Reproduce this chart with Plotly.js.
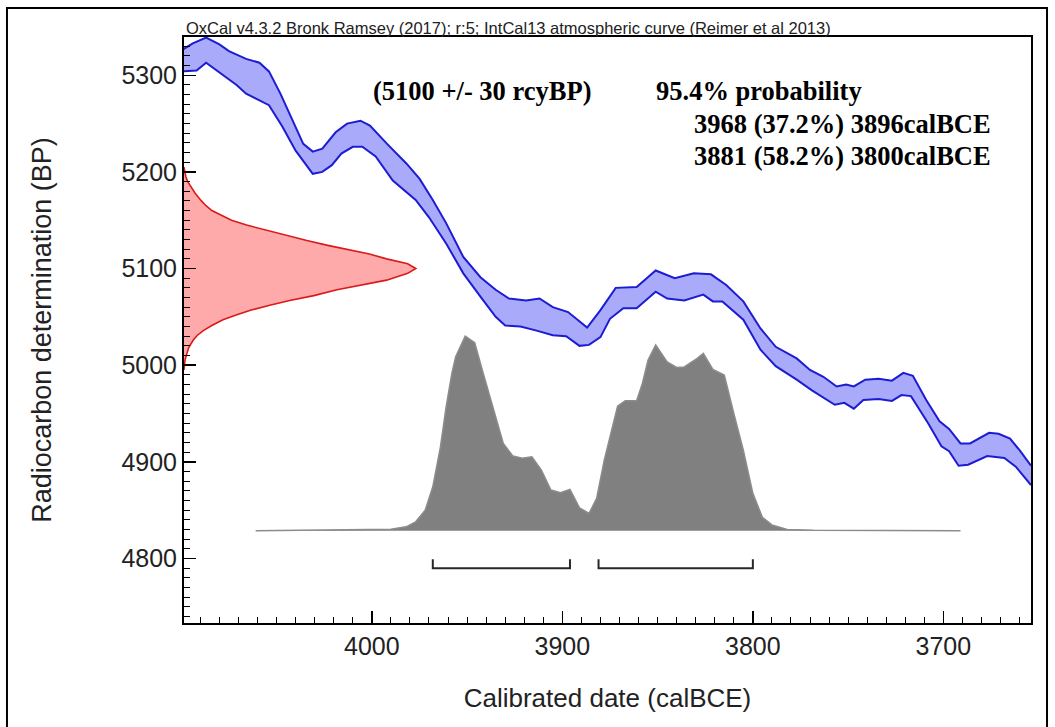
<!DOCTYPE html>
<html>
<head>
<meta charset="utf-8">
<script src="https://cdn.plot.ly/plotly-3.0.1.min.js"></script>
<style>
html,body{margin:0;padding:0;background:#fff;}
#chart{width:1055px;height:727px;}
</style>
</head>
<body>
<div id="chart"></div>
<script>
// IntCal13 calibration band (calendar year BCE vs radiocarbon age BP)
const curveUpperYear = [4099,4094,4087,4080,4075,4066,4059,4054,4048,4041,4036,4031,4026,4019,4013,4006,4001,3992,3982,3975,3968,3961,3952,3943,3935,3928,3919,3912,3905,3897,3887,3880,3872,3861,3851,3841,3831,3822,3814,3805,3796,3788,3777,3770,3763,3756,3751,3747,3741,3734,3727,3721,3716,3709,3702,3697,3691,3686,3676,3671,3665,3660,3654];
const curveUpperBP   = [5327,5333,5339,5332,5325,5317,5313,5304,5281,5250,5229,5221,5224,5241,5250,5253,5248,5229,5209,5193,5171,5147,5112,5091,5078,5069,5067,5069,5060,5055,5039,5057,5080,5081,5098,5090,5095,5094,5083,5066,5038,5019,5007,4995,4988,4978,4980,4978,4985,4986,4984,4992,4989,4964,4942,4934,4919,4919,4930,4929,4924,4912,4896];
const curveLowerYear = [4099,4092,4087,4080,4071,4066,4059,4054,4047,4040,4031,4026,4021,4016,4010,4005,3998,3989,3977,3970,3961,3952,3943,3935,3930,3922,3914,3905,3898,3891,3886,3880,3875,3868,3861,3851,3845,3836,3826,3821,3816,3805,3796,3788,3777,3769,3757,3752,3747,3742,3734,3727,3722,3717,3708,3701,3697,3692,3687,3677,3668,3662,3654];
const curveLowerBP   = [5304,5305,5313,5303,5290,5281,5274,5269,5247,5222,5198,5200,5207,5219,5226,5226,5216,5191,5171,5153,5126,5095,5071,5050,5041,5040,5036,5031,5030,5020,5021,5029,5048,5059,5059,5076,5069,5067,5073,5066,5066,5047,5016,4999,4985,4974,4959,4961,4955,4964,4965,4963,4969,4968,4940,4916,4911,4896,4897,4906,4904,4895,4876];

// Measured radiocarbon age and its relative likelihood
const measMean = 5100;
const measSigma = 30;
const measBP      = [5205,5200,5195,5190,5185,5178,5170,5165,5160,5155,5150,5145,5140,5134,5129,5124,5119,5115,5110,5105,5100,5095,5088,5083,5078,5072,5067,5062,5057,5052,5047,5041,5036,5031,5026,5018,5012,5006,5000,4995];
const measDensity = [0,0.003,0.008,0.016,0.028,0.048,0.075,0.095,0.12,0.16,0.205,0.27,0.35,0.44,0.53,0.62,0.715,0.8,0.874,0.965,1.0,0.965,0.874,0.77,0.66,0.56,0.456,0.37,0.29,0.225,0.168,0.12,0.085,0.058,0.04,0.02,0.011,0.005,0.002,0];

// Calibrated date probability (relative)
const postYear = [4061,4034,3990,3982,3977,3972,3968,3964,3961,3958,3956,3951,3946,3942,3936,3931,3926,3921,3916,3911,3906,3901,3896,3891,3886,3882,3878,3874,3871,3867,3861,3858,3855,3851,3845,3840,3836,3830,3826,3821,3815,3810,3805,3800,3795,3790,3782,3768,3691];
const postProb = [0,0.004,0.008,0.02,0.046,0.106,0.226,0.43,0.637,0.808,0.894,1.0,0.966,0.825,0.62,0.449,0.384,0.372,0.38,0.312,0.209,0.195,0.212,0.118,0.089,0.166,0.363,0.517,0.64,0.668,0.668,0.757,0.877,0.954,0.868,0.839,0.842,0.88,0.911,0.829,0.8,0.603,0.414,0.192,0.069,0.03,0.007,0.002,0];

// 95.4% highest probability ranges
const rangeStart = [3968, 3881];
const rangeEnd   = [3896, 3800];
const rangePct   = [37.2, 58.2];

const xTickVals = [4000, 3900, 3800, 3700];
const yTickVals = [4800, 4900, 5000, 5100, 5200, 5300];

const sans = 'Liberation Sans, Arial, sans-serif';
const serif = 'Liberation Serif, Times New Roman, serif';

const traces = [];

// measurement distribution along the BP axis
traces.push({
  x: measDensity, y: measBP, xaxis: 'x2', yaxis: 'y',
  type: 'scatter', mode: 'lines', fill: 'tozerox',
  fillcolor: 'rgb(255,170,170)',
  line: {color: 'rgb(220,25,25)', width: 1.6},
  hoverinfo: 'skip'
});

// calibration band
traces.push({
  x: curveLowerYear, y: curveLowerBP, type: 'scatter', mode: 'lines',
  line: {color: 'rgb(28,28,210)', width: 2},
  hoverinfo: 'skip'
});
traces.push({
  x: curveUpperYear, y: curveUpperBP, type: 'scatter', mode: 'lines',
  fill: 'tonexty', fillcolor: 'rgb(170,170,250)',
  line: {color: 'rgb(28,28,210)', width: 2},
  hoverinfo: 'skip'
});

// calibrated probability
traces.push({
  x: postYear, y: postProb, xaxis: 'x', yaxis: 'y2',
  type: 'scatter', mode: 'lines', fill: 'tozeroy',
  fillcolor: 'rgb(128,128,128)',
  line: {color: 'rgb(140,140,140)', width: 1.5},
  hoverinfo: 'skip'
});

// range brackets
const bracketLow = -0.193, bracketHigh = -0.147;
for (let i = 0; i < rangeStart.length; i++) {
  traces.push({
    x: [rangeStart[i], rangeStart[i], rangeEnd[i], rangeEnd[i]],
    y: [bracketHigh, bracketLow, bracketLow, bracketHigh],
    xaxis: 'x', yaxis: 'y2', type: 'scatter', mode: 'lines',
    line: {color: 'rgb(40,40,40)', width: 2},
    hoverinfo: 'skip'
  });
}

const rangeLines = rangeStart.map((s, i) => `${s} (${rangePct[i].toFixed(1)}%) ${rangeEnd[i]}calBCE`);

const annFont = {family: serif, size: 26.5, color: '#000', weight: 'bold'};

const layout = {
  width: 1055, height: 727,
  margin: {l: 184, r: 24, t: 37, b: 104, pad: 0},
  paper_bgcolor: '#fff', plot_bgcolor: '#fff',
  showlegend: false,
  xaxis: {
    range: [4098.6, 3654],
    tickvals: xTickVals, ticktext: xTickVals.map(String),
    ticks: 'inside', ticklen: 12, tickwidth: 1.5, tickcolor: '#000',
    minor: {ticks: 'inside', ticklen: 6, tickwidth: 1, tickcolor: '#000', dtick: 10, tick0: 0, showgrid: false},
    showline: true, linecolor: '#000', linewidth: 2, mirror: true,
    showgrid: false, zeroline: false,
    tickfont: {family: sans, size: 25, color: '#222'},
    title: {text: 'Calibrated date (calBCE)', font: {family: sans, size: 26, color: '#222'}, standoff: 30},
    automargin: false
  },
  yaxis: {
    range: [4733.2, 5339.6],
    tickvals: yTickVals, ticktext: yTickVals.map(String),
    ticks: 'inside', ticklen: 12, tickwidth: 1.5, tickcolor: '#000',
    minor: {ticks: 'inside', ticklen: 6, tickwidth: 1, tickcolor: '#000', dtick: 10, tick0: 0, showgrid: false},
    showline: true, linecolor: '#000', linewidth: 2, mirror: true,
    showgrid: false, zeroline: false,
    tickfont: {family: sans, size: 25, color: '#222'},
    title: {text: 'Radiocarbon determination (BP)', font: {family: sans, size: 27, color: '#222'}, standoff: 62},
    automargin: false
  },
  xaxis2: {overlaying: 'x', range: [0, 3.654], visible: false, fixedrange: true},
  yaxis2: {overlaying: 'y', range: [-0.474, 2.537], visible: false, fixedrange: true},
  shapes: [{
    type: 'rect', xref: 'paper', yref: 'paper',
    x0: -0.2090, x1: 1.0189, y0: -0.20, y1: 1.0495,
    line: {color: '#000', width: 2}, fillcolor: 'rgba(0,0,0,0)', layer: 'below'
  }],
  annotations: [
    {xref: 'paper', yref: 'paper', x: 0, y: 1, xanchor: 'left', yanchor: 'bottom', yshift: -2,
     text: 'OxCal v4.3.2 Bronk Ramsey (2017); r:5; IntCal13 atmospheric curve (Reimer et al 2013)',
     showarrow: false, font: {family: sans, size: 16.5, color: '#222'}},
    {xref: 'paper', yref: 'paper', x: 0.3524, y: 0.9078, xanchor: 'center', yanchor: 'middle',
     text: `(${measMean} +/- ${measSigma} rcyBP)`, showarrow: false, font: annFont},
    {xref: 'paper', yref: 'paper', x: 0.5547, y: 0.9078, xanchor: 'left', yanchor: 'middle',
     text: '95.4% probability', showarrow: false, font: annFont},
    {xref: 'paper', yref: 'paper', x: 0.9551, y: 0.8515, xanchor: 'right', yanchor: 'middle',
     text: rangeLines[0], showarrow: false, font: annFont},
    {xref: 'paper', yref: 'paper', x: 0.9551, y: 0.7969, xanchor: 'right', yanchor: 'middle',
     text: rangeLines[1], showarrow: false, font: annFont}
  ]
};

Plotly.newPlot('chart', traces, layout, {staticPlot: true, displayModeBar: false});
</script>
</body>
</html>
